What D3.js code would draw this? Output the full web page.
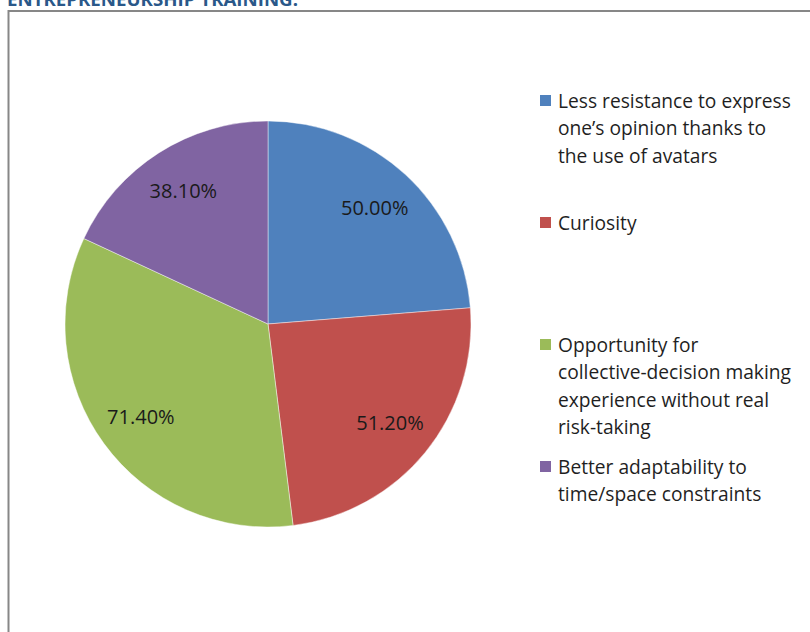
<!DOCTYPE html>
<html>
<head>
<meta charset="utf-8">
<script src="https://cdn.jsdelivr.net/npm/d3@7"></script>
<style>
  html, body { margin: 0; padding: 0; background: #fff; }
  svg { display: block; }
</style>
</head>
<body>
<svg id="chart" width="810" height="632"></svg>
<script>
// Survey responses: perceived benefits of the virtual environment
const categories = [
  ["Less resistance to express", "one\u2019s opinion thanks to", "the use of avatars"],
  ["Curiosity"],
  ["Opportunity for", "collective-decision making", "experience without real", "risk-taking"],
  ["Better adaptability to", "time/space constraints"]
];
const values = [50.0, 51.2, 71.4, 38.1];
const valueLabels = ["50.00%", "51.20%", "71.40%", "38.10%"];
const colors = ["#4f81bd", "#c0504d", "#9bbb59", "#8064a2"];
const titleText = "ENTREPRENEURSHIP TRAINING:";

const svg = d3.select("#chart");
const font = "'Open Sans', 'Noto Sans', sans-serif";

// Heading, partly cut off by the top edge
svg.append("text")
  .attr("x", 7).attr("y", 6)
  .attr("font-family", font)
  .attr("font-weight", 700)
  .attr("font-size", 17)
  .attr("fill", "#2a5889")
  .attr("textLength", 291)
  .attr("lengthAdjust", "spacingAndGlyphs")
  .text(titleText);

// Chart frame
svg.append("rect")
  .attr("x", 8.5).attr("y", 11)
  .attr("width", 900).attr("height", 700)
  .attr("fill", "none")
  .attr("stroke", "#878787")
  .attr("stroke-width", 2);

// Pie
const cx = 268, cy = 324, r = 203;
const pie = d3.pie().sort(null).value(d => d);
const arcs = pie(values);
const arc = d3.arc().innerRadius(0).outerRadius(r);
const labelArc = d3.arc().innerRadius(r * 0.775).outerRadius(r * 0.775);

const g = svg.append("g").attr("transform", `translate(${cx},${cy})`);
g.selectAll("path.slice")
  .data(arcs)
  .join("path")
  .attr("class", "slice")
  .attr("d", arc)
  .attr("fill", (d, i) => colors[i])
  .attr("stroke", "rgba(255,255,255,0.55)")
  .attr("stroke-width", 0.8);

g.selectAll("text.val")
  .data(arcs)
  .join("text")
  .attr("class", "val")
  .attr("transform", d => `translate(${labelArc.centroid(d)})`)
  .attr("text-anchor", "middle")
  .attr("dy", "0.35em")
  .attr("font-family", font)
  .attr("font-size", 20)
  .attr("fill", "#1a1a1a")
  .text((d, i) => valueLabels[i]);

// Legend: entries evenly spaced down the right side
const legendY = d3.scalePoint().domain(d3.range(categories.length)).range([101, 467]);
const lineH = 27.5;
const legend = svg.append("g");
categories.forEach((lines, i) => {
  const y0 = legendY(i);
  legend.append("rect")
    .attr("x", 540).attr("y", y0 - 6)
    .attr("width", 11).attr("height", 11)
    .attr("fill", colors[i]);
  const t = legend.append("text")
    .attr("font-family", font)
    .attr("font-size", 19.2)
    .attr("fill", "#1f1f1f");
  lines.forEach((ln, j) => {
    t.append("tspan")
      .attr("x", 558)
      .attr("y", y0 + j * lineH)
      .attr("dy", "0.35em")
      .text(ln);
  });
});
</script>
</body>
</html>
